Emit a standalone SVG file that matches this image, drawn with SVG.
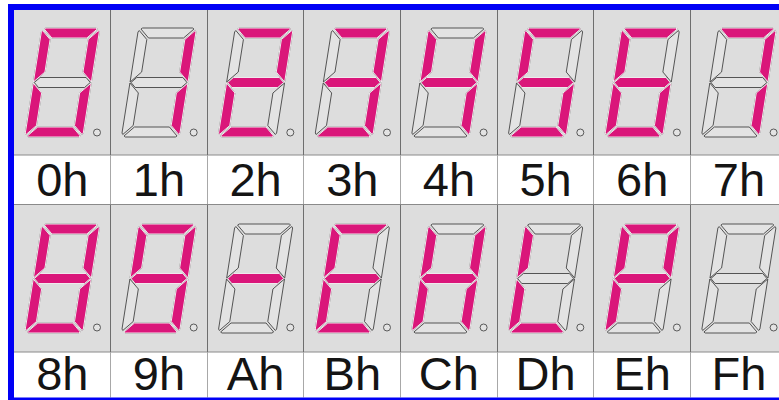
<svg xmlns="http://www.w3.org/2000/svg" xmlns:xlink="http://www.w3.org/1999/xlink" width="779" height="400" viewBox="0 0 779 400">
<style>
.bg{fill:#ffffff}
.blue{fill:#0000f5}
.cell{fill:#dddddd}
.lab{fill:#ffffff}
.hl{stroke:#8a8a8a;stroke-width:1;fill:none}
.vd{stroke:#6e6e6e;stroke-width:1;fill:none}
.vl{stroke:#a8a8a8;stroke-width:1;fill:none}
.off{fill:#e3e3e3;stroke:#4a4a4a;stroke-width:0.9;stroke-linejoin:round}
.on{fill:#da167a;stroke:#f6f6f6;stroke-width:0.9;stroke-linejoin:round}
.dp{fill:#e3e3e3;stroke:#4a4a4a;stroke-width:0.9}
.lbl{font-family:"Liberation Sans",Arial,sans-serif;font-size:47px;fill:#141414;text-anchor:middle}
</style>
<defs>
<path id="a" d="M-25,-54.5 H25 L26.5,-53.5 L17.5,-44.5 H-17.5 L-26.5,-53.5 Z"/>
<path id="d" d="M-25,54.5 H25 L26.5,53.5 L17.5,44.5 H-17.5 L-26.5,53.5 Z"/>
<path id="g" d="M-28,0 L-23,-5 H23 L28,0 L23,5 H-23 Z"/>
<path id="f" d="M-29,-50.5 L-28,-52 L-19,-43 V-10.5 L-29,-0.5 Z"/>
<path id="e" d="M-29,50.5 L-28,52 L-19,43 V10.5 L-29,0.5 Z"/>
<path id="b" d="M29,-50.5 L28,-52 L19,-43 V-10.5 L29,-0.5 Z"/>
<path id="c" d="M29,50.5 L28,52 L19,43 V10.5 L29,0.5 Z"/>
<g id="base" class="off">
<use href="#a"/><use href="#b"/><use href="#c"/><use href="#d"/><use href="#e"/><use href="#f"/><use href="#g"/>
</g>
</defs>

<rect class="bg" x="0" y="0" width="779" height="400"/>
<rect class="cell" x="14" y="10" width="765" height="145"/>
<rect class="lab" x="14" y="155" width="765" height="49.5"/>
<rect class="cell" x="14" y="204.5" width="765" height="147.5"/>
<rect class="lab" x="14" y="352" width="765" height="45.5"/>

<g id="grid">
<path class="hl" d="M14,155 H779 M14,204.5 H779 M14,352 H779"/>
<path class="vd" d="M110.5,10 V155 M207.5,10 V155 M303.5,10 V155 M400.5,10 V155 M497.5,10 V155 M593.5,10 V155 M690.5,10 V155"/>
<path class="vl" d="M110.5,155 V204.5 M207.5,155 V204.5 M303.5,155 V204.5 M400.5,155 V204.5 M497.5,155 V204.5 M593.5,155 V204.5 M690.5,155 V204.5"/>
<path class="vd" d="M110.5,204.5 V352 M207.5,204.5 V352 M303.5,204.5 V352 M400.5,204.5 V352 M497.5,204.5 V352 M593.5,204.5 V352 M690.5,204.5 V352"/>
<path class="vl" d="M110.5,352 V397.5 M207.5,352 V397.5 M303.5,352 V397.5 M400.5,352 V397.5 M497.5,352 V397.5 M593.5,352 V397.5 M690.5,352 V397.5"/>
</g>

<g id="border">
<rect class="blue" x="8" y="4" width="771" height="6"/>
<rect class="blue" x="8" y="4" width="6" height="396"/>
<rect class="blue" x="8" y="397.5" width="771" height="2.5"/>
</g>

<g id="n0h"><g transform="translate(62.3,82.5) skewX(-9)"><use href="#base"/><use class="on" href="#a"/><use class="on" href="#b"/><use class="on" href="#c"/><use class="on" href="#d"/><use class="on" href="#e"/><use class="on" href="#f"/></g><circle class="dp" cx="97" cy="132.5" r="3.5"/><text class="lbl" x="62.3" y="196">0h</text></g>
<g id="n1h"><g transform="translate(159,82.5) skewX(-9)"><use href="#base"/><use class="on" href="#b"/><use class="on" href="#c"/></g><circle class="dp" cx="193.7" cy="132.5" r="3.5"/><text class="lbl" x="159" y="196">1h</text></g>
<g id="n2h"><g transform="translate(255.6,82.5) skewX(-9)"><use href="#base"/><use class="on" href="#a"/><use class="on" href="#b"/><use class="on" href="#g"/><use class="on" href="#e"/><use class="on" href="#d"/></g><circle class="dp" cx="290.3" cy="132.5" r="3.5"/><text class="lbl" x="255.6" y="196">2h</text></g>
<g id="n3h"><g transform="translate(352.3,82.5) skewX(-9)"><use href="#base"/><use class="on" href="#a"/><use class="on" href="#b"/><use class="on" href="#g"/><use class="on" href="#c"/><use class="on" href="#d"/></g><circle class="dp" cx="387" cy="132.5" r="3.5"/><text class="lbl" x="352.3" y="196">3h</text></g>
<g id="n4h"><g transform="translate(448.9,82.5) skewX(-9)"><use href="#base"/><use class="on" href="#f"/><use class="on" href="#g"/><use class="on" href="#b"/><use class="on" href="#c"/></g><circle class="dp" cx="483.6" cy="132.5" r="3.5"/><text class="lbl" x="448.9" y="196">4h</text></g>
<g id="n5h"><g transform="translate(545.6,82.5) skewX(-9)"><use href="#base"/><use class="on" href="#a"/><use class="on" href="#f"/><use class="on" href="#g"/><use class="on" href="#c"/><use class="on" href="#d"/></g><circle class="dp" cx="580.3" cy="132.5" r="3.5"/><text class="lbl" x="545.6" y="196">5h</text></g>
<g id="n6h"><g transform="translate(642.2,82.5) skewX(-9)"><use href="#base"/><use class="on" href="#a"/><use class="on" href="#f"/><use class="on" href="#g"/><use class="on" href="#e"/><use class="on" href="#c"/><use class="on" href="#d"/></g><circle class="dp" cx="676.9" cy="132.5" r="3.5"/><text class="lbl" x="642.2" y="196">6h</text></g>
<g id="n7h"><g transform="translate(738.9,82.5) skewX(-9)"><use href="#base"/><use class="on" href="#a"/><use class="on" href="#b"/><use class="on" href="#c"/></g><circle class="dp" cx="773.6" cy="132.5" r="3.5"/><text class="lbl" x="738.9" y="196">7h</text></g>

<g id="n8h"><g transform="translate(62.3,278.5) skewX(-9)"><use href="#base"/><use class="on" href="#a"/><use class="on" href="#b"/><use class="on" href="#c"/><use class="on" href="#d"/><use class="on" href="#e"/><use class="on" href="#f"/><use class="on" href="#g"/></g><circle class="dp" cx="97" cy="327.5" r="3.5"/><text class="lbl" x="62.3" y="390">8h</text></g>
<g id="n9h"><g transform="translate(159,278.5) skewX(-9)"><use href="#base"/><use class="on" href="#a"/><use class="on" href="#b"/><use class="on" href="#c"/><use class="on" href="#d"/><use class="on" href="#f"/><use class="on" href="#g"/></g><circle class="dp" cx="193.7" cy="327.5" r="3.5"/><text class="lbl" x="159" y="390">9h</text></g>
<g id="nAh"><g transform="translate(255.6,278.5) skewX(-9)"><use href="#base"/><use class="on" href="#g"/></g><circle class="dp" cx="290.3" cy="327.5" r="3.5"/><text class="lbl" x="255.6" y="390">Ah</text></g>
<g id="nBh"><g transform="translate(352.3,278.5) skewX(-9)"><use href="#base"/><use class="on" href="#a"/><use class="on" href="#d"/><use class="on" href="#e"/><use class="on" href="#f"/><use class="on" href="#g"/></g><circle class="dp" cx="387" cy="327.5" r="3.5"/><text class="lbl" x="352.3" y="390">Bh</text></g>
<g id="nCh"><g transform="translate(448.9,278.5) skewX(-9)"><use href="#base"/><use class="on" href="#b"/><use class="on" href="#c"/><use class="on" href="#e"/><use class="on" href="#f"/><use class="on" href="#g"/></g><circle class="dp" cx="483.6" cy="327.5" r="3.5"/><text class="lbl" x="448.9" y="390">Ch</text></g>
<g id="nDh"><g transform="translate(545.6,278.5) skewX(-9)"><use href="#base"/><use class="on" href="#d"/><use class="on" href="#e"/><use class="on" href="#f"/></g><circle class="dp" cx="580.3" cy="327.5" r="3.5"/><text class="lbl" x="545.6" y="390">Dh</text></g>
<g id="nEh"><g transform="translate(642.2,278.5) skewX(-9)"><use href="#base"/><use class="on" href="#a"/><use class="on" href="#b"/><use class="on" href="#e"/><use class="on" href="#f"/><use class="on" href="#g"/></g><circle class="dp" cx="676.9" cy="327.5" r="3.5"/><text class="lbl" x="642.2" y="390">Eh</text></g>
<g id="nFh"><g transform="translate(738.9,278.5) skewX(-9)"><use href="#base"/></g><circle class="dp" cx="773.6" cy="327.5" r="3.5"/><text class="lbl" x="738.9" y="390">Fh</text></g>
</svg>
